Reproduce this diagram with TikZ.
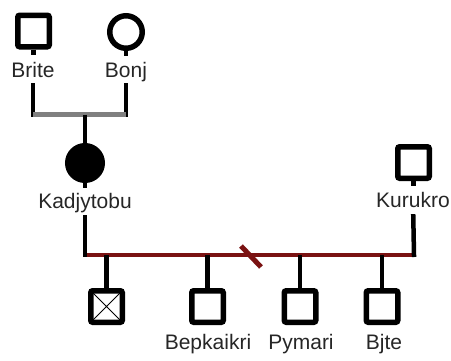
\documentclass[tikz,border=0pt]{standalone}
\usepackage{fontspec}
\setmainfont{Liberation Sans}
\definecolor{sibred}{RGB}{122,18,18}
\definecolor{matgray}{RGB}{128,128,128}
\definecolor{labeltext}{RGB}{38,38,38}
\begin{document}
\begin{tikzpicture}[x=1pt,y=-1pt,
  male/.style={draw=black, line width=5.5pt, rectangle, rounded corners=2pt,
    minimum size=31.5pt, inner sep=0pt, fill=white},
  female/.style={draw=black, line width=5.5pt, circle, minimum size=32.5pt,
    inner sep=0pt, fill=white},
  affected/.style={female, fill=black, minimum size=34.5pt},
  deceased/.style={path picture={
    \draw[line width=0.8pt]
      (path picture bounding box.north west) -- (path picture bounding box.south east)
      (path picture bounding box.north east) -- (path picture bounding box.south west);}},
  plabel/.style={anchor=base, inner sep=0pt, text height=14pt, text depth=4pt,
    font=\fontsize{21}{25}\selectfont, text=labeltext},
  link/.style={draw=black, line width=4.5pt, line cap=butt},
  mate/.style={draw=matgray, line width=5pt, line cap=butt},
  sibs/.style={draw=sibred, line width=4.5pt, line cap=butt},
]
\useasboundingbox (0,0) rectangle (451,360);

% parents
\node[male]   (brite) at (33.5,31) {};
\node[female] (bonj)  at (126,32) {};
\node[plabel] (briteN) at (33,77) {Brite};
\node[plabel] (bonjN)  at (126,77) {Bonj};

% index person and partner
\node[affected] (kadj) at (85,163) {};
\node[plabel] (kadjN) at (85,208) {Kadjytobu};
\node[male] (kuru) at (413.5,162.5) {};
\node[plabel] (kuruN) at (413,207) {Kurukro};

% children
\node[male, deceased] (c1) at (106.5,306.5) {};
\node[male] (c2) at (207.5,306.5) {};
\node[male] (c3) at (300,306.5) {};
\node[male] (c4) at (382,306.5) {};
\node[plabel] (c2N) at (208,349) {Bepkaikri};
\node[plabel] (c3N) at (301,349) {Pymari};
\node[plabel] (c4N) at (384,349) {Bjte};

% line junctions
\coordinate (mL) at (33,114.5);
\coordinate (mR) at (126,114.5);
\coordinate (mC) at (85,114.5);
\coordinate (sL) at (85,255);
\coordinate (sR) at (414,255);
\coordinate (cut) at (251,256.5);

% short stubs under the symbols
\draw[link] (brite.south) -- ++(0,5);
\draw[link] (bonj.south)  -- ++(0,5);
\draw[link] (kadj.south)  -- ++(0,5);
\draw[link] (kuru.south)  -- ++(0,5);

% parents' mating line
\draw[link, shorten <=2pt, shorten >=-2pt] (briteN) -- (mL);
\draw[link, shorten <=2pt, shorten >=-2pt] (bonjN) -- (mR);
\draw[mate] (mL) -- (mR);
\draw[link] (mC) -- (kadj);

% sibship line with break mark
\draw[sibs] (sL) -- (sR);
\draw[sibs, line width=5pt] (cut) ++(-10,-10.5) -- ++(20,21);
\draw[link, shorten <=3pt, shorten >=-2pt] (kadjN) -- (sL);
\draw[link, shorten <=3pt, shorten >=-2pt] (kuruN) -- (sR);

% drops to the children
\draw[link] (c1 |- sL) -- (c1);
\draw[link] (c2 |- sL) -- (c2);
\draw[link] (c3 |- sL) -- (c3);
\draw[link] (c4 |- sL) -- (c4);
\end{tikzpicture}
\end{document}
